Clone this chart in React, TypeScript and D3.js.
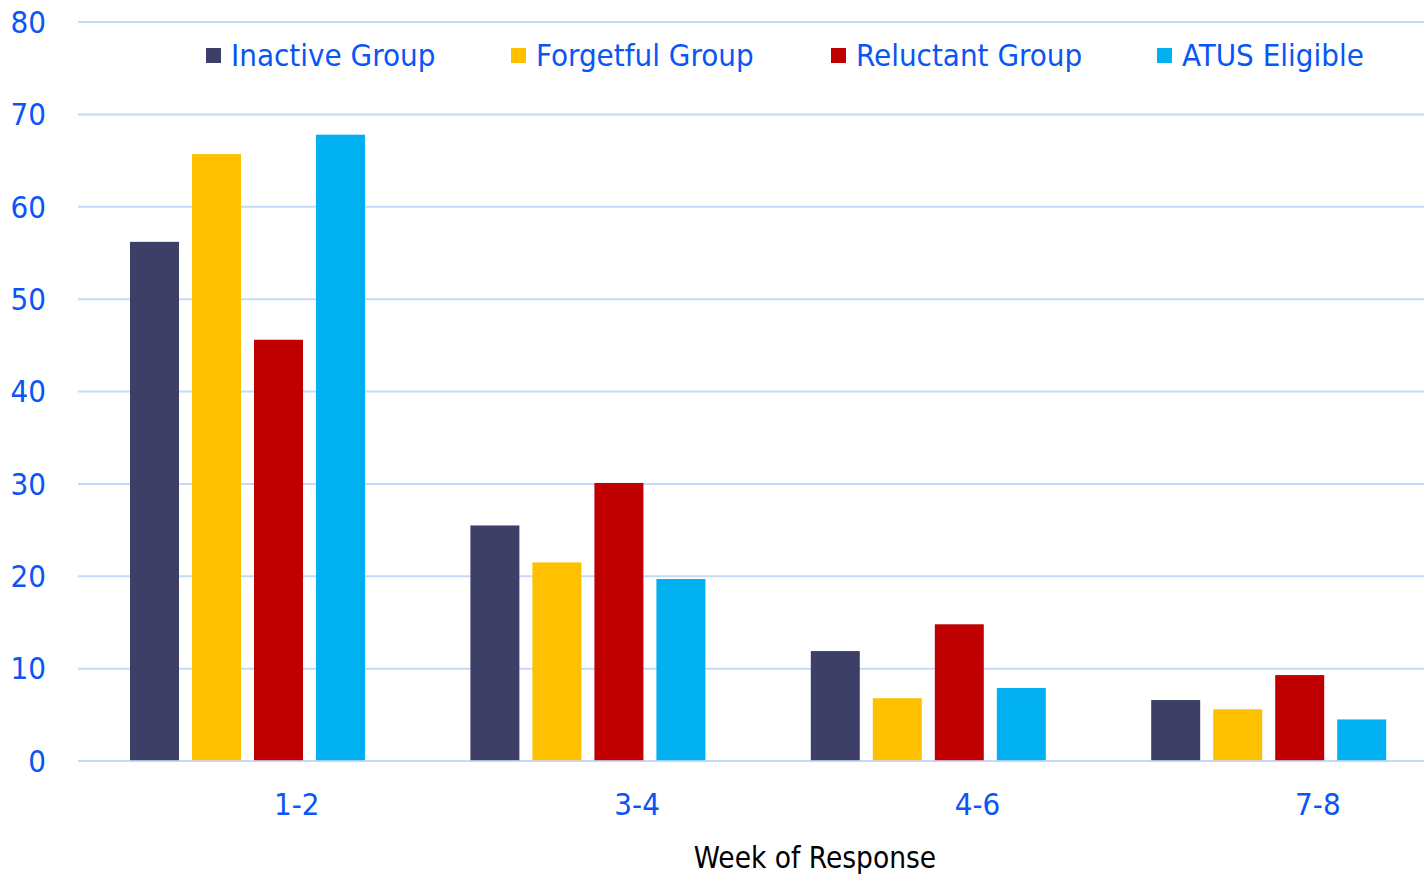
import React from "react";
import * as d3 from "d3";

const categories = ["1-2", "3-4", "4-6", "7-8"];
const seriesNames = ["Inactive Group", "Forgetful Group", "Reluctant Group", "ATUS Eligible"];
const seriesColors = ["#3D3F66", "#FFC000", "#C00000", "#00B0F0"];
const inactive = [56.2, 25.5, 11.9, 6.6];
const forgetful = [65.7, 21.5, 6.8, 5.6];
const reluctant = [45.6, 30.1, 14.8, 9.3];
const atus = [67.8, 19.7, 7.9, 4.5];
const yTicks = [0, 10, 20, 30, 40, 50, 60, 70, 80];
const xTitle = "Week of Response";

const seriesValues = [inactive, forgetful, reluctant, atus];

const W = 1424;
const H = 875;
const FONT = "'DejaVu Sans Condensed', 'DejaVu Sans', Tahoma, sans-serif";
const BLUE = "#0A55F5";
const GRID = "#C6D9F8";

export default function App() {
  const y = d3.scaleLinear().domain([0, 80]).range([761, 22]);
  const step = 340.4;
  const x0 = d3.scaleBand<string>().domain(categories).range([126.5, 126.5 + 4 * step]).padding(0);
  const x1 = d3.scaleBand<string>().domain(seriesNames).range([3.5, 238.5]).paddingInner(0.21).paddingOuter(0);
  const legendX = [206, 511, 831, 1157];

  return (
    <svg width={W} height={H} style={{ position: "absolute", left: 0, top: 0, background: "#fff" }}>
      {yTicks.map((t) => (
        <g key={t}>
          <line x1={78} x2={W} y1={y(t)} y2={y(t)} stroke={GRID} strokeWidth={2} />
          <text x={46} y={y(t)} dy="0.35em" textAnchor="end" fontFamily={FONT} fontSize={31} fill={BLUE}>
            {t}
          </text>
        </g>
      ))}
      {categories.map((c, ci) => (
        <g key={c} transform={`translate(${x0(c)},0)`}>
          {seriesNames.map((s, si) => {
            const v = seriesValues[si][ci];
            return (
              <rect
                key={s}
                x={x1(s)}
                y={y(v)}
                width={x1.bandwidth()}
                height={y(0) - y(v)}
                fill={seriesColors[si]}
              />
            );
          })}
          <text
            x={x0.bandwidth() / 2}
            y={815}
            textAnchor="middle"
            fontFamily={FONT}
            fontSize={31}
            fill={BLUE}
          >
            {c}
          </text>
        </g>
      ))}
      <line x1={78} x2={W} y1={y(0)} y2={y(0)} stroke={GRID} strokeWidth={2} opacity={0.8} />
      {seriesNames.map((s, i) => (
        <g key={s}>
          <rect x={legendX[i]} y={48} width={15} height={15} fill={seriesColors[i]} />
          <text x={legendX[i] + 25} y={66} fontFamily={FONT} fontSize={31} fill={BLUE}>
            {s}
          </text>
        </g>
      ))}
      <text x={815} y={868} textAnchor="middle" fontFamily={FONT} fontSize={29.5} fill="#000">
        {xTitle}
      </text>
    </svg>
  );
}
